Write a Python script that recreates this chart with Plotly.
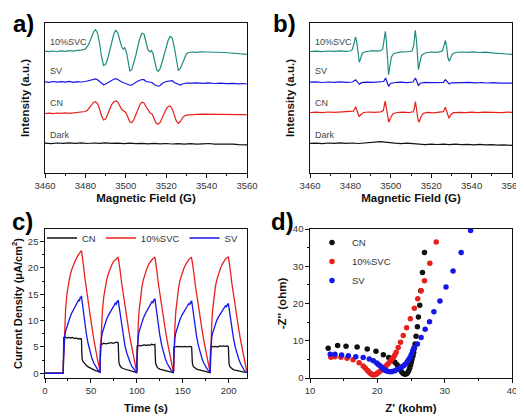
import plotly.graph_objects as go

# ---------------- Panel a: EPR (Intensity offsets in a.u.) ----------------
A_SVC = [(3460,121.8),(3462,121.3),(3464,122.0),(3466,121.5),(3468,122.2),(3470,121.7),(3472,122.3),
         (3474,121.9),(3476,122.6),(3478,122.8),(3480,124.0),(3481,126.5),(3482,130.5),(3483,136.0),
         (3484,141.0),(3485,143.3),(3486,140.0),(3487,130.0),(3488,116.0),(3489,107.5),(3490,108.5),
         (3491,114.0),(3492,122.0),(3493,131.0),(3494,138.5),(3495,142.7),(3496,140.5),(3497,133.0),
         (3498,126.0),(3498.7,124.0),(3499.5,125.5),(3500.5,119.0),(3501.3,109.0),(3502,102.0),
         (3503,103.5),(3504,110.0),(3505,118.0),(3506,127.0),(3507,135.0),(3508,139.8),(3509,139.0),
         (3510,131.0),(3511,123.0),(3512,121.0),(3512.7,122.5),(3513.5,119.5),(3514.5,110.0),
         (3515.3,103.0),(3516,101.7),(3517,104.5),(3518,111.0),(3519,119.0),(3520,127.0),(3521,133.0),
         (3522,136.5),(3523,135.0),(3524,126.0),(3525,113.0),(3526,102.5),(3527,104.5),(3528,110.0),
         (3529,115.5),(3530,119.0),(3531,120.5),(3533,121.0),(3535,120.7),(3537,121.2),(3540,121.0),
         (3543,120.8),(3546,121.2),(3549,120.5),(3552,120.0),(3555,119.6),(3558,119.0),(3560,118.6)]
A_SV = [(3460,91.2),(3462,90.6),(3464,91.5),(3466,90.8),(3468,91.4),(3470,90.9),(3472,91.6),(3474,90.7),
        (3476,91.3),(3478,91.0),(3480,91.5),(3482,92.5),(3484,93.8),(3485,94.0),(3486,93.2),(3488,89.5),
        (3489,88.3),(3490,89.0),(3492,91.5),(3494,93.8),(3495,94.3),(3496,93.5),(3498,91.0),(3500,89.0),
        (3502,87.8),(3503,88.0),(3504,89.5),(3506,92.0),(3508,93.5),(3509,93.3),(3510,91.5),(3512,91.0),
        (3513,90.5),(3514,88.5),(3516,86.8),(3517,87.5),(3518,89.5),(3520,91.5),(3522,92.5),(3523,92.3),
        (3524,90.5),(3526,88.3),(3527,88.0),(3528,89.0),(3530,90.0),(3532,89.8),(3535,90.2),(3538,89.6),
        (3541,90.1),(3544,89.5),(3547,89.9),(3550,89.3),(3553,89.7),(3556,89.2),(3558,89.5),(3560,89.0)]
A_CN = [(3460,59.5),(3462,59.9),(3464,59.4),(3466,60.0),(3468,59.6),(3470,60.1),(3472,59.7),(3474,60.2),
        (3476,60.4),(3478,60.8),(3480,61.5),(3481,62.8),(3482,65.0),(3483,68.0),(3484,70.5),(3485,71.3),
        (3486,69.5),(3487,64.0),(3488,57.0),(3489,53.0),(3490,54.0),(3491,58.5),(3492,64.0),(3493,68.5),
        (3494,71.0),(3495,72.0),(3496,71.0),(3497,67.5),(3498,63.5),(3499,62.0),(3500,60.5),(3501,56.0),
        (3502,51.0),(3503,50.5),(3504,53.5),(3505,58.5),(3506,64.0),(3507,68.5),(3508,70.7),(3509,70.0),
        (3510,66.5),(3511,62.5),(3512,60.0),(3513,59.0),(3514,55.0),(3515,50.0),(3516,48.7),(3517,50.5),
        (3518,55.0),(3519,60.0),(3520,64.0),(3521,66.5),(3522,67.0),(3523,64.0),(3524,58.0),(3525,52.0),
        (3526,49.7),(3527,51.5),(3528,55.0),(3529,57.0),(3530,57.8),(3532,58.3),(3535,58.6),(3538,58.9),
        (3541,58.7),(3544,59.0),(3547,58.6),(3550,58.8),(3553,58.5),(3556,58.3),(3558,58.5),(3560,58.2)]
A_DARK = [(3460,29.8),(3463,29.4),(3466,30.0),(3469,29.6),(3472,30.2),(3475,29.7),(3478,30.1),(3481,29.5),
          (3484,30.0),(3487,29.7),(3490,30.2),(3493,29.6),(3496,29.9),(3499,29.4),(3502,29.8),(3505,29.3),
          (3508,29.7),(3511,29.2),(3514,29.6),(3517,29.1),(3520,29.5),(3523,29.0),(3526,29.4),(3529,28.9),
          (3532,29.3),(3535,28.8),(3538,29.2),(3541,29.5),(3544,28.9),(3547,29.0),(3550,28.5),(3553,28.8),
          (3556,28.3),(3558,28.6),(3560,28.2)]

# ---------------- Panel b: EPR ----------------
B_SVC = [(3460,121.5),(3463,121.9),(3466,121.3),(3469,122.0),(3472,121.6),(3475,122.1),(3478,121.7),
         (3480,122.0),(3481,123.5),(3482,131.0),(3482.6,136.0),(3483.2,130.0),(3483.8,116.0),(3484.4,110.7),
         (3485,114.0),(3485.8,119.5),(3487,121.0),(3489,121.8),(3491,122.3),(3493,121.9),(3495,122.4),
         (3496,124.0),(3496.8,135.0),(3497.3,141.7),(3497.8,132.0),(3498.3,112.0),(3498.9,98.3),
         (3499.5,106.0),(3500.3,116.0),(3501.5,119.5),(3503,120.5),(3505,121.2),(3507,121.0),(3509,121.5),
         (3510.5,122.0),(3511.4,128.0),(3512.1,142.7),(3512.7,133.0),(3513.2,115.0),(3513.7,103.3),
         (3514.3,110.0),(3515.2,117.5),(3516.5,119.5),(3518,120.5),(3520,121.0),(3522,120.7),(3524,121.2),
         (3525.5,122.0),(3526.3,127.0),(3527,132.7),(3527.6,127.0),(3528.2,116.0),(3528.9,111.7),
         (3529.6,115.0),(3530.5,119.0),(3532,120.5),(3535,121.0),(3538,120.6),(3541,121.1),(3544,120.5),
         (3547,120.8),(3550,120.2),(3553,119.8),(3556,119.2),(3558,119.0),(3560,118.6)]
B_SV = [(3460,90.8),(3463,91.1),(3466,90.5),(3469,91.0),(3472,90.6),(3475,91.2),(3478,90.7),(3481,91.0),
        (3482.6,93.3),(3483.5,91.0),(3484.4,88.7),(3485.5,90.3),(3488,90.9),(3491,90.6),(3494,91.1),
        (3496.5,91.5),(3497.4,95.0),(3498.1,91.0),(3498.9,86.7),(3499.8,89.5),(3502,90.5),(3505,90.9),
        (3508,90.4),(3511,91.0),(3512.2,95.0),(3513,91.0),(3513.7,87.3),(3514.6,89.8),(3517,90.6),
        (3520,90.3),(3523,90.8),(3526,90.6),(3527,93.3),(3527.9,91.0),(3528.9,89.0),(3530,90.2),
        (3533,90.5),(3536,90.1),(3539,90.6),(3542,90.2),(3545,90.5),(3548,90.0),(3551,90.4),(3554,89.9),
        (3557,90.2),(3560,89.8)]
B_CN = [(3460,60.5),(3463,60.9),(3466,60.4),(3469,61.0),(3472,60.6),(3475,61.1),(3478,60.9),(3480,61.2),
        (3481.5,61.8),(3482.6,66.3),(3483.4,62.0),(3484.3,56.3),(3485.2,58.5),(3486.5,60.5),(3489,61.0),
        (3492,60.6),(3495,61.2),(3496.3,62.5),(3497.2,72.0),(3497.8,64.0),(3498.4,55.0),(3499,50.7),
        (3499.8,55.0),(3501,59.0),(3503,60.5),(3506,60.9),(3509,60.4),(3511,61.2),(3511.6,64.0),
        (3512.2,71.3),(3512.8,63.0),(3513.4,54.0),(3514,50.7),(3514.8,55.5),(3516,59.5),(3518,60.6),
        (3521,60.2),(3524,60.8),(3526,61.3),(3527,65.7),(3527.8,61.0),(3528.8,54.7),(3529.8,58.5),
        (3531,60.3),(3534,60.7),(3537,60.3),(3540,60.8),(3543,60.4),(3546,60.9),(3549,60.5),(3552,60.8),
        (3555,60.4),(3558,60.9),(3560,60.6)]
B_DARK = [(3460,29.6),(3463,29.9),(3466,29.4),(3469,30.0),(3472,29.6),(3475,30.1),(3478,29.7),(3481,30.0),
          (3484,29.5),(3487,30.1),(3490,30.3),(3493,30.8),(3495,31.3),(3497,30.9),(3499,30.2),(3502,29.8),
          (3505,29.4),(3508,29.8),(3511,29.3),(3514,28.6),(3517,28.4),(3520,28.9),(3523,28.5),(3526,28.9),
          (3529,28.4),(3532,28.8),(3535,28.3),(3538,28.7),(3541,28.2),(3544,28.6),(3547,28.1),(3550,28.4),
          (3553,27.9),(3556,28.2),(3558,27.7),(3560,27.6)]
EPR_LABELS = ["10%SVC", "SV", "CN", "Dark"]
EPR_LABEL_Y = [131, 102, 70, 38]

# ---------------- Panel c: photocurrent (time s, uA/cm2) ----------------
C_CN = [(0,0.0),(10,0.0),(19.8,0.0),(20.1,3.5),(20.4,6.8),(22,6.9),(24,6.7),(26,6.8),(28,6.7),(30,6.8),
        (32,6.6),(34,6.7),(36,6.5),(38,6.6),(39.7,6.5),(40.1,4.0),(40.5,2.6),(41.5,2.2),(43,1.8),(45,1.5),
        (47,1.2),(49,1.0),(51,0.8),(53,0.7),(55,0.5),(57,0.4),(59.8,0.2),
        (60.1,3.0),(60.4,5.5),(62,5.5),(64,5.7),(66,5.6),(68,5.7),(70,5.7),(72,5.8),(74,5.7),(76,5.8),
        (78,5.9),(79.7,5.8),(80.1,3.5),(80.5,2.0),(81.5,1.5),(83,1.1),(85,0.9),(87,0.8),(89,0.6),(91,0.5),
        (93,0.4),(95,0.3),(97,0.2),(99.8,0.1),
        (100.1,3.0),(100.4,5.2),(102,5.3),(104,5.2),(106,5.3),(108,5.4),(110,5.3),(112,5.4),(114,5.3),
        (116,5.5),(118,5.4),(119.7,5.5),(120.1,3.3),(120.5,1.9),(121.5,1.4),(123,1.0),(125,0.8),(127,0.7),
        (129,0.6),(131,0.5),(133,0.4),(135,0.3),(137,0.2),(139.8,0.1),
        (140.1,3.0),(140.4,5.0),(142,5.0),(144,5.1),(146,5.0),(148,5.1),(150,5.0),(152,5.1),(154,5.0),
        (156,5.1),(158,5.1),(159.7,5.0),(160.1,3.2),(160.5,1.9),(161.5,1.3),(163,1.0),(165,0.8),(167,0.7),
        (169,0.6),(171,0.5),(173,0.4),(175,0.3),(177,0.2),(179.8,0.1),
        (180.1,3.0),(180.4,5.0),(182,5.1),(184,5.0),(186,5.1),(188,5.0),(190,5.2),(192,5.1),(194,5.2),
        (196,5.1),(198,5.2),(199.7,5.1),(200.1,3.2),(200.5,1.8),(201.5,1.2),(203,0.9),(205,0.7),(207,0.6),
        (209,0.5),(211,0.4),(213,0.3),(215,0.3),(217,0.2),(220,0.2)]
C_SVC = [(0,0.0),(10,0.0),(19.8,0.0),
         (20.2,2.5),(20.7,5.4),(21.5,9.5),(22.5,12.3),(24,15.2),(25.5,16.8),(27,18.3),(29,19.6),(31,20.6),
         (33,21.4),(35,22.1),(37,22.7),(38.5,23.1),(39.5,23.3),(40,23.0),(41,22.0),(42,20.3),(43.5,18.0),
         (45,16.0),(47,13.5),(49,11.2),(51,8.8),(53,6.6),(55,4.5),(57,2.8),(59,1.2),(60,0.4),
         (60.5,4.5),(61.5,9.0),(62.5,11.8),(64,14.5),(65.5,16.2),(67,17.6),(69,18.9),(71,19.9),(73,20.7),
         (75,21.3),(77,21.7),(78.5,21.9),(79.5,22.0),(80,21.7),(81,20.8),(82,19.3),(83.5,17.1),(85,15.2),
         (87,12.8),(89,10.6),(91,8.4),(93,6.3),(95,4.3),(97,2.6),(99,1.0),(100,0.3),
         (100.5,4.6),(101.5,9.1),(102.5,11.9),(104,14.6),(105.5,16.3),(107,17.7),(109,18.9),(111,19.9),
         (113,20.7),(115,21.3),(117,21.7),(118.5,21.9),(119.5,22.0),(120,21.7),(121,20.8),(122,19.2),
         (123.5,17.0),(125,15.1),(127,12.7),(129,10.5),(131,8.3),(133,6.2),(135,4.2),(137,2.5),(139,0.9),
         (140,0.3),
         (140.5,4.5),(141.5,9.0),(142.5,11.8),(144,14.5),(145.5,16.2),(147,17.6),(149,18.8),(151,19.8),
         (153,20.6),(155,21.2),(157,21.7),(158.5,21.9),(159.5,22.0),(160,21.6),(161,20.7),(162,19.2),
         (163.5,17.0),(165,15.1),(167,12.7),(169,10.5),(171,8.3),(173,6.2),(175,4.2),(177,2.5),(179,0.9),
         (180,0.3),
         (180.5,4.6),(181.5,9.1),(182.5,11.9),(184,14.6),(185.5,16.3),(187,17.7),(189,18.9),(191,19.9),
         (193,20.7),(195,21.4),(197,21.8),(198.5,22.0),(199.5,22.1),(200,21.8),(201,20.9),(202,19.3),
         (203.5,17.1),(205,15.2),(207,12.8),(209,10.6),(211,8.4),(213,6.3),(215,4.3),(217,2.6),(219,1.0),
         (220,0.4)]
C_SV = [(0,0.0),(10,0.0),(19.8,0.0),
        (20.3,3.0),(20.8,5.8),(21.5,7.0),(22.5,8.0),(24,9.0),(25.5,9.9),(27,10.5),(29,11.4),(31,12.0),
        (33,12.8),(35,13.3),(36.5,13.9),(37.5,13.7),(38.5,14.5),(39.2,14.3),(39.7,14.7),(40.2,14.0),
        (41,12.7),(42,11.2),(43.5,9.2),(45,7.5),(47,5.6),(49,4.1),(51,2.9),(53,2.0),(55,1.3),(57,0.8),
        (59,0.3),(60,0.1),
        (60.3,3.0),(60.8,5.5),(61.5,6.7),(62.5,7.7),(64,8.7),(65.5,9.5),(67,10.2),(69,11.0),(71,11.7),
        (73,12.3),(75,12.8),(76.5,13.3),(77.5,13.1),(78.5,13.6),(79.2,13.5),(79.7,13.9),(80.2,13.3),
        (81,12.1),(82,10.7),(83.5,8.8),(85,7.2),(87,5.3),(89,3.9),(91,2.8),(93,1.9),(95,1.2),(97,0.7),
        (99,0.3),(100,0.1),
        (100.3,3.0),(100.8,5.6),(101.5,6.8),(102.5,7.9),(104,8.9),(105.5,9.7),(107,10.4),(109,11.2),
        (111,11.9),(113,12.5),(115,13.1),(116.5,13.6),(117.5,13.4),(118.5,13.9),(119.2,13.8),(119.7,14.2),
        (120.2,13.5),(121,12.3),(122,10.9),(123.5,9.0),(125,7.3),(127,5.4),(129,4.0),(131,2.8),(133,1.9),
        (135,1.2),(137,0.7),(139,0.3),(140,0.1),
        (140.3,3.0),(140.8,5.5),(141.5,6.7),(142.5,7.7),(144,8.7),(145.5,9.5),(147,10.2),(149,11.0),
        (151,11.6),(153,12.2),(155,12.7),(156.5,13.2),(157.5,13.0),(158.5,13.5),(159.2,13.4),(159.7,13.8),
        (160.2,13.2),(161,12.0),(162,10.6),(163.5,8.7),(165,7.1),(167,5.3),(169,3.9),(171,2.8),(173,1.9),
        (175,1.2),(177,0.7),(179,0.3),(180,0.1),
        (180.3,3.0),(180.8,5.4),(181.5,6.6),(182.5,7.6),(184,8.5),(185.5,9.3),(187,10.0),(189,10.7),
        (191,11.3),(193,11.8),(195,12.3),(196.5,12.8),(197.5,12.6),(198.5,13.0),(199.2,12.9),(199.7,13.3),
        (200.2,12.7),(201,11.6),(202,10.3),(203.5,8.5),(205,6.9),(207,5.1),(209,3.8),(211,2.7),(213,1.8),
        (215,1.1),(217,0.6),(219,0.2),(220,0.1)]

# ---------------- Panel d: Nyquist (Z' kohm, -Z'' ohm) ----------------
D_CN = [(12.7,8.0),(14.1,8.7),(15.35,8.5),(17.0,8.3),(18.5,7.8),(19.8,7.15),(20.9,6.25),(21.7,5.5),
        (22.2,4.9),(22.6,4.2),(22.9,3.6),(23.1,3.1),(23.35,2.4),(23.6,1.7),(23.8,1.3),(24.0,1.07),
        (24.2,1.0),(24.45,1.3),(24.65,1.9),(24.8,2.6),(24.95,3.5),(25.05,4.3),(25.15,5.1),(25.3,6.0),
        (25.4,6.9),(25.5,8.0),(25.6,9.1),(25.75,11.2),(25.95,13.75),(26.1,16.35),(26.3,19.5),(26.45,23.4),
        (26.7,28.3),(27.0,33.7)]
D_SVC = [(13.1,5.6),(13.7,5.7),(14.6,5.6),(15.5,5.3),(16.4,4.9),(17.3,4.1),(17.9,3.2),(18.2,2.7),
         (18.5,2.1),(18.75,1.6),(19.0,1.2),(19.2,0.95),(19.4,0.85),(19.6,0.85),(19.8,1.0),(20.0,1.25),
         (20.2,1.55),(20.45,1.9),(20.7,2.25),(21.0,2.7),(21.3,3.3),(21.6,3.8),(21.9,4.4),(22.15,5.0),
         (22.4,5.6),(22.6,6.2),(22.8,6.9),(23.1,8.2),(23.45,9.6),(23.85,11.4),(24.35,13.5),(24.9,15.9),
         (25.5,18.7),(26.0,21.3),(26.5,23.4),(27.0,26.1),(27.8,30.8),(28.75,36.5)]
D_SV = [(13.0,6.4),(13.7,6.35),(14.7,6.15),(15.7,6.0),(16.8,5.7),(17.9,5.5),(18.8,5.1),(19.4,4.65),
        (19.9,4.0),(20.15,3.65),(20.4,3.3),(20.65,2.85),(20.9,2.4),(21.1,2.15),(21.3,1.95),(21.55,1.8),
        (21.9,1.7),(22.2,1.75),(22.6,1.95),(22.95,2.25),(23.3,2.6),(23.6,2.95),(23.9,3.3),(24.15,3.7),
        (24.4,4.2),(24.6,4.8),(24.85,5.5),(25.05,6.3),(25.25,7.3),(25.45,8.1),(25.95,9.1),(26.5,10.9),
        (27.1,13.1),(27.75,15.1),(28.4,17.8),(29.3,20.7),(30.2,24.4),(31.25,28.7),(32.45,33.7),(33.85,39.6)]

TEAL = "#1f8c7e"
BLUE = "#1616e8"
RED = "#e8201c"
BLACK = "#111111"
FONT = "Arial, Liberation Sans, sans-serif"

# the page body adds an 8px offset; the figure fills the rest of the 524x417 window
OFF = 8
W, H = 524 - OFF, 417 - OFF


def xy(pairs):
    return [p[0] for p in pairs], [p[1] for p in pairs]


def fx(s):
    return (s - OFF) / W


def fy(s):
    return 1 - (s - OFF) / H


fig = go.Figure()

# panel a
for pairs, col, name in [(A_SVC, TEAL, "10%SVC"), (A_SV, BLUE, "SV"), (A_CN, RED, "CN"), (A_DARK, BLACK, "Dark")]:
    x, y = xy(pairs)
    fig.add_trace(go.Scatter(x=x, y=y, mode="lines", line=dict(color=col, width=1.2),
                             name=name, showlegend=False, xaxis="x", yaxis="y"))
# panel b
for pairs, col, name in [(B_SVC, TEAL, "10%SVC"), (B_SV, BLUE, "SV"), (B_CN, RED, "CN"), (B_DARK, BLACK, "Dark")]:
    x, y = xy(pairs)
    fig.add_trace(go.Scatter(x=x, y=y, mode="lines", line=dict(color=col, width=1.2),
                             name=name, showlegend=False, xaxis="x2", yaxis="y2"))
# panel c
for pairs, col, name in [(C_CN, BLACK, "CN"), (C_SVC, RED, "10%SVC"), (C_SV, BLUE, "SV")]:
    x, y = xy(pairs)
    fig.add_trace(go.Scatter(x=x, y=y, mode="lines", line=dict(color=col, width=1.3),
                             name=name, legend="legend", xaxis="x3", yaxis="y3"))
# panel d
for pairs, col, name in [(D_CN, BLACK, "CN"), (D_SVC, RED, "10%SVC"), (D_SV, BLUE, "SV")]:
    x, y = xy(pairs)
    fig.add_trace(go.Scatter(x=x, y=y, mode="markers", marker=dict(color=col, size=5.5),
                             name=name, legend="legend2", xaxis="x4", yaxis="y4"))

axis_common = dict(showline=True, linecolor=BLACK, linewidth=1.3, mirror=True, ticks="outside",
                   ticklen=3.5, tickwidth=1.1, tickcolor=BLACK, showgrid=False, zeroline=False,
                   automargin=False,
                   tickfont=dict(size=9.5, color="#333", family=FONT),
                   minor=dict(ticks="outside", ticklen=2, tickwidth=1, tickcolor=BLACK, showgrid=False))
title_font = dict(size=11.5, color="#111", family=FONT)
title_font_small = dict(size=11, color="#111", family=FONT)

XA, XB = [fx(45), fx(247)], [fx(310), fx(512)]
YT, YB = [fy(173), fy(23)], [fy(378), fy(229)]

fig.update_layout(
    width=W, height=H, margin=dict(l=0, r=0, t=0, b=0, autoexpand=False),
    paper_bgcolor="white", plot_bgcolor="white",
    font=dict(family=FONT, color="#222"),
    xaxis=dict(axis_common, domain=XA, anchor="y", range=[3460, 3560], dtick=20, tick0=3460,
               minor=dict(axis_common["minor"], dtick=10),
               title=dict(text="<b>Magnetic Field (G)</b>", font=title_font, standoff=3)),
    yaxis=dict(axis_common, domain=YT, anchor="x", range=[0, 150], showticklabels=False, ticks="",
               minor=dict(ticks=""),
               title=dict(text="<b>Intensity (a.u.)</b>", font=title_font, standoff=11)),
    xaxis2=dict(axis_common, domain=XB, anchor="y2", range=[3460, 3560], dtick=20, tick0=3460,
                minor=dict(axis_common["minor"], dtick=10),
                title=dict(text="<b>Magnetic Field (G)</b>", font=title_font, standoff=3)),
    yaxis2=dict(axis_common, domain=YT, anchor="x2", range=[0, 150], showticklabels=False, ticks="",
                minor=dict(ticks=""),
                title=dict(text="<b>Intensity (a.u.)</b>", font=title_font, standoff=11)),
    xaxis3=dict(axis_common, domain=XA, anchor="y3", range=[0, 220], dtick=50, tick0=0,
                minor=dict(axis_common["minor"], dtick=25),
                title=dict(text="<b>Time (s)</b>", font=title_font, standoff=8)),
    yaxis3=dict(axis_common, domain=YB, anchor="x3", range=[-0.9, 27.4], dtick=5, tick0=0,
                minor=dict(axis_common["minor"], dtick=2.5),
                title=dict(text="<b>Current Density (μA/cm<sup>2</sup>)</b>", font=title_font_small,
                           standoff=3)),
    xaxis4=dict(axis_common, domain=XB, anchor="y4", range=[10, 40], dtick=10, tick0=10,
                minor=dict(axis_common["minor"], dtick=5),
                title=dict(text="<b>Z' (kohm)</b>", font=title_font, standoff=8)),
    yaxis4=dict(axis_common, domain=YB, anchor="x4", range=[0, 40], dtick=10, tick0=0,
                minor=dict(axis_common["minor"], dtick=5),
                title=dict(text="<b>-Z'' (ohm)</b>", font=title_font, standoff=3)),
    legend=dict(orientation="h", x=fx(42), xanchor="left", y=fy(238), yanchor="middle",
                bgcolor="rgba(0,0,0,0)", font=dict(size=9.5, color="#333", family=FONT),
                itemwidth=30, tracegroupgap=0),
    legend2=dict(orientation="v", x=fx(312), xanchor="left", y=fy(228), yanchor="top",
                 bgcolor="rgba(0,0,0,0)", font=dict(size=9.5, color="#333", family=FONT),
                 itemwidth=30, tracegroupgap=0),
)

annotations = []
for xr, yr in [("x", "y"), ("x2", "y2")]:
    for lab, yv in zip(EPR_LABELS, EPR_LABEL_Y):
        annotations.append(dict(x=3461.5, y=yv, xref=xr, yref=yr, text=lab, showarrow=False,
                                xanchor="left", yanchor="middle",
                                font=dict(size=9, color="#444", family=FONT)))
for lab, px, py in [("a)", 23, 23), ("b)", 284, 23), ("c)", 22, 221), ("d)", 282, 221)]:
    annotations.append(dict(x=fx(px), y=fy(py), xref="paper", yref="paper", text="<b>" + lab + "</b>",
                            showarrow=False, xanchor="center", yanchor="middle",
                            font=dict(size=24, color="#000", family=FONT)))
fig.update_layout(annotations=annotations)

fig.write_html("out.html")
